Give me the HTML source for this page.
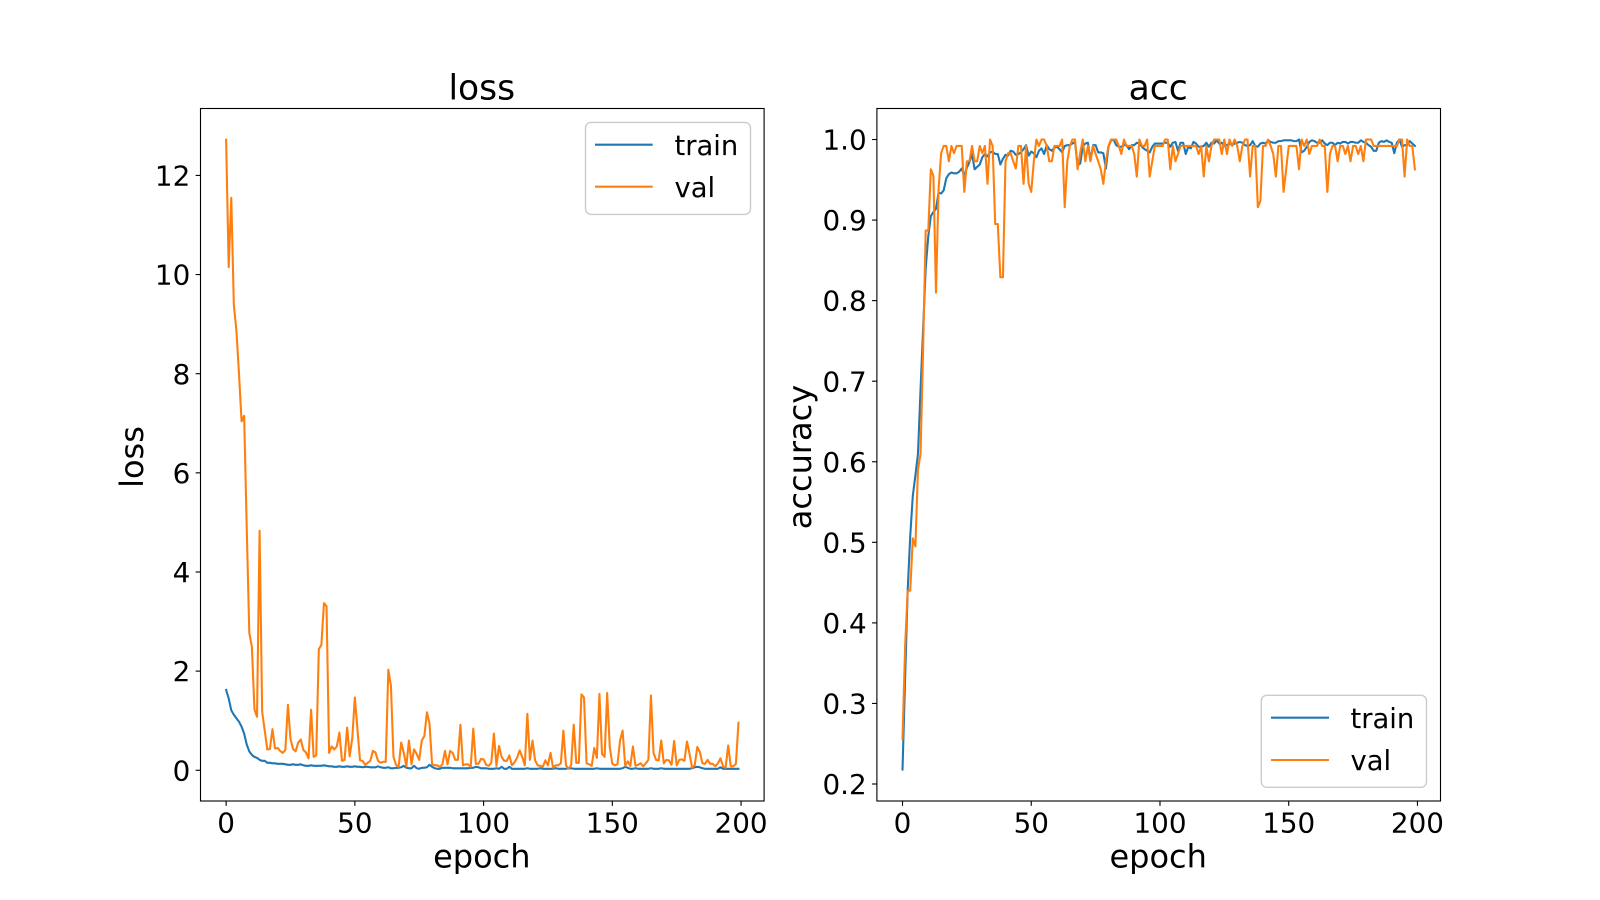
<!DOCTYPE html>
<html lang="en">
<head>
<meta charset="utf-8">
<title>Training curves: loss and accuracy</title>
<style>
  html, body { margin: 0; padding: 0; background: #fff; }
  svg { display: block; font-family: "DejaVu Sans", "Liberation Sans", sans-serif; fill: #000; }
  .tick-label { font-size: 27.8px; }
  .axis-title { font-size: 32px; }
  .chart-title { font-size: 34.5px; }
  .legend-text { font-size: 27.4px; }
</style>
</head>
<body>
<svg id="figure" xmlns="http://www.w3.org/2000/svg" width="1600" height="900" viewBox="0 0 1600 900">
  <rect x="0" y="0" width="1600" height="900" fill="#fff"/>

  <g id="panel-loss">
    <text class="chart-title" x="481.8" y="99.5" text-anchor="middle">loss</text>
    <text class="axis-title" x="481.8" y="867.5" text-anchor="middle">epoch</text>
    <text class="axis-title" transform="translate(143 457) rotate(-90)" text-anchor="middle">loss</text>
  </g>

  <g id="panel-acc">
    <text class="chart-title" x="1158.2" y="99.5" text-anchor="middle">acc</text>
    <text class="axis-title" x="1158.2" y="867.5" text-anchor="middle">epoch</text>
    <text class="axis-title" transform="translate(811 457) rotate(-90)" text-anchor="middle">accuracy</text>
  </g>

  <g id="legend-loss">
    <rect x="585.5" y="122.4" width="165" height="92" rx="5.5" ry="5.5" fill="#fff" fill-opacity="0.8" stroke="#cccccc" stroke-width="1.4"/>
    <line x1="595" x2="652.7" y1="144.7" y2="144.7" stroke="#1f77b4" stroke-width="2.08"/>
    <text class="legend-text" x="674.5" y="155">train</text>
    <line x1="595" x2="652.7" y1="186.7" y2="186.7" stroke="#ff7f0e" stroke-width="2.08"/>
    <text class="legend-text" x="674.5" y="197">val</text>
  </g>

  <g id="legend-acc">
    <rect x="1261.3" y="695.3" width="165.2" height="92" rx="5.5" ry="5.5" fill="#fff" fill-opacity="0.8" stroke="#cccccc" stroke-width="1.4"/>
    <line x1="1271" x2="1329" y1="717.7" y2="717.7" stroke="#1f77b4" stroke-width="2.08"/>
    <text class="legend-text" x="1350.5" y="728">train</text>
    <line x1="1271" x2="1329" y1="760" y2="760" stroke="#ff7f0e" stroke-width="2.08"/>
    <text class="legend-text" x="1350.5" y="770">val</text>
  </g>
</svg>

<script>
const lossTrain = [
  1.62,1.45,1.21,1.12,1.05,.98,.88,.74,.52,.38,
  .31,.27,.25,.21,.19,.19,.15,.15,.14,.14,
  .13,.13,.13,.12,.11,.11,.12,.11,.11,.12,
  .1,.09,.09,.1,.09,.09,.09,.09,.1,.09,
  .08,.08,.07,.07,.08,.07,.07,.08,.07,.07,
  .08,.07,.07,.06,.07,.07,.06,.06,.06,.08,
  .06,.05,.05,.06,.04,.04,.05,.05,.06,.09,
  .05,.04,.04,.09,.04,.03,.05,.05,.06,.11,
  .07,.04,.03,.03,.05,.05,.05,.05,.04,.04,
  .04,.04,.04,.04,.04,.05,.05,.07,.06,.04,
  .04,.04,.03,.03,.03,.04,.03,.07,.03,.03,
  .07,.03,.03,.03,.03,.03,.03,.04,.03,.03,
  .03,.03,.04,.03,.03,.03,.03,.03,.04,.03,
  .03,.03,.03,.04,.04,.03,.03,.03,.03,.03,
  .03,.03,.03,.03,.04,.03,.03,.03,.03,.03,
  .03,.03,.03,.03,.04,.07,.05,.03,.03,.04,
  .03,.03,.03,.03,.03,.04,.03,.03,.03,.04,
  .03,.03,.03,.03,.03,.03,.03,.03,.03,.03,
  .03,.04,.06,.07,.06,.04,.03,.03,.03,.03,
  .03,.03,.06,.03,.03,.03,.03,.03,.03,.03
];
const lossVal = [
  12.72,10.15,11.55,9.39,8.87,8.0,7.04,7.15,4.9,2.77,
  2.49,1.23,1.08,4.83,1.18,.8,.42,.43,.83,.44,
  .45,.39,.35,.41,1.32,.63,.43,.38,.56,.62,
  .41,.36,.24,1.22,.27,.3,2.44,2.53,3.37,3.31,
  .35,.48,.42,.48,.76,.19,.21,.86,.28,.65,
  1.47,.83,.2,.19,.11,.15,.19,.39,.36,.19,
  .15,.17,.17,2.03,1.71,.27,.11,.07,.56,.35,
  .08,.6,.12,.42,.33,.21,.6,.69,1.17,.94,
  .12,.1,.1,.07,.12,.39,.12,.39,.35,.21,
  .21,.92,.1,.12,.12,.07,.84,.13,.13,.23,
  .22,.11,.09,.15,.74,.09,.49,.27,.19,.19,
  .3,.1,.16,.25,.4,.27,.1,1.14,.21,.6,
  .2,.1,.09,.07,.2,.1,.35,.05,.1,.1,
  .14,.8,.1,.03,.1,.92,.15,.15,1.53,1.47,
  .14,.12,.09,.45,.25,1.54,.33,.27,1.56,.47,
  .13,.1,.12,.6,.8,.09,.18,.09,.48,.09,
  .11,.14,.08,.14,.21,1.51,.35,.21,.2,.6,
  .14,.21,.2,.11,.59,.1,.21,.22,.19,.58,
  .33,.05,.1,.47,.37,.14,.13,.21,.13,.13,
  .08,.14,.24,.08,.05,.5,.08,.08,.13,.96
];
const accTrain = [
  .218,.33,.44,.508,.558,.583,.61,.69,.765,.84,
  .88,.905,.91,.914,.934,.933,.937,.952,.957,.959,
  .958,.958,.96,.964,.955,.965,.972,.982,.963,.966,
  .969,.978,.982,.979,.984,.985,.982,.982,.969,.976,
  .981,.98,.986,.985,.981,.982,.984,.988,.993,.98,
  .985,.983,.978,.986,.989,.982,.993,.988,.986,.99,
  .991,.988,.984,.992,.993,.993,.995,.997,.968,.97,
  .991,.995,.996,.974,.993,.993,.984,.984,.983,.964,
  .991,.999,1.0,.993,.991,.991,.993,.993,.988,.993,
  .993,.996,.995,.991,.988,.986,.984,.991,.995,.995,
  .995,.995,.996,.996,.991,.996,.997,.986,.996,.996,
  .982,.991,.989,.997,.995,.991,.991,.992,.996,.991,
  .996,.995,.999,.995,.996,.992,.993,.995,.993,.995,
  .996,.997,.996,.993,.992,.993,.998,.992,.991,.995,
  .996,.995,.999,.997,.996,.996,.998,.998,.999,.999,
  .999,.999,.998,.998,1.0,.984,.986,.991,.997,.999,
  .998,.996,.996,.999,.995,.993,.996,.996,.993,.996,
  .995,.997,.997,.995,.997,.997,.996,.996,.999,.997,
  .996,.993,.991,.986,.986,.996,.998,.997,.999,.997,
  .996,.983,.996,1.0,.991,.993,.993,.998,.995,.992
];
const accVal = [
  .256,.37,.44,.44,.505,.495,.59,.61,.74,.887,
  .887,.963,.955,.81,.938,.983,.992,.992,.973,.992,
  .983,.992,.992,.992,.935,.973,.973,.992,.973,.973,
  .992,.983,.992,.945,1,.992,.895,.895,.829,.829,
  .973,.983,.983,.973,.964,.992,.992,.945,.992,.945,
  .935,.973,1,.992,1,1,.992,.973,.973,.992,
  .992,.992,1,.916,.973,.992,1,1,.963,.983,
  1,.973,.992,.973,.992,.982,.973,.963,.945,.973,
  .992,1,1,1,.992,.982,1,.992,.992,.992,
  .982,.954,1,.992,.992,1,.954,.973,.992,.992,
  .992,.992,1,1,.963,.992,.973,.982,.992,.992,
  .992,.992,.992,.992,.992,.982,.992,.954,.992,.973,
  .992,1,1,1,.982,1,.982,1,.992,1,
  .992,.973,.992,1,1,.954,.992,.992,.916,.924,
  .992,.992,1,.992,.982,.954,.992,.992,.935,.963,
  .992,.992,.992,.992,.963,1,.992,1,.982,.992,
  .992,.992,1,.992,.992,.935,.982,.992,.992,.973,
  .992,.992,.982,.992,.973,.992,.992,.982,.992,.973,
  1,1,1,.992,.992,.992,.992,.992,.992,.992,
  .992,.992,.992,1,1,.954,1,.992,.992,.963
];
const epochTicks = [0, 50, 100, 150, 200];
const lossTicks = [0, 2, 4, 6, 8, 10, 12];
const accTicks = [0.2, 0.3, 0.4, 0.5, 0.6, 0.7, 0.8, 0.9, 1.0];
const epochDomain = [-9.95, 208.95];
const lossDomain = [-0.62, 13.35];
const accDomain = [0.1789, 1.0385];

const NS = 'http://www.w3.org/2000/svg';

function scaleLinear(domain, range) {
  return function (v) {
    return range[0] + (v - domain[0]) / (domain[1] - domain[0]) * (range[1] - range[0]);
  };
}

function makeSvg(tag, attrs) {
  const el = document.createElementNS(NS, tag);
  for (const k in attrs) el.setAttribute(k, attrs[k]);
  return el;
}

function drawSeries(parent, name, values, x, y, color) {
  const pts = values.map(function (v, i) { return x(i).toFixed(2) + ',' + y(v).toFixed(2); });
  const line = makeSvg('polyline', {
    points: pts.join(' '), fill: 'none', stroke: color,
    'stroke-width': 2.08, 'stroke-linejoin': 'round', 'stroke-linecap': 'square'
  });
  
  
  parent.appendChild(line);
}

function drawPanel(cfg) {
  const panel = document.getElementById(cfg.panelId);
  const box = cfg.box;
  const x = scaleLinear(epochDomain, [box.left, box.right]);
  const y = scaleLinear(cfg.yDomain, [box.bottom, box.top]);

  const series = makeSvg('g', {});
  
  
  panel.appendChild(series);
  drawSeries(series, cfg.prefix + '-train-line', cfg.train, x, y, '#1f77b4');
  drawSeries(series, cfg.prefix + '-val-line', cfg.val, x, y, '#ff7f0e');

  const frame = makeSvg('rect', {
    x: box.left, y: box.top, width: box.right - box.left, height: box.bottom - box.top,
    fill: 'none', stroke: '#000', 'stroke-width': 1.11
  });
  
  
  panel.appendChild(frame);

  epochTicks.forEach(function (t) {
    const px = x(t);
    const mark = makeSvg('line', { x1: px, x2: px, y1: box.bottom, y2: box.bottom + 4.86, stroke: '#000', 'stroke-width': 1.11 });
    
    
    panel.appendChild(mark);
    const label = makeSvg('text', { x: px, y: box.bottom + 31.6, 'text-anchor': 'middle', class: 'tick-label' });
    
    
    label.textContent = String(t);
    panel.appendChild(label);
  });

  cfg.yTicks.forEach(function (t) {
    const py = y(t);
    const mark = makeSvg('line', { x1: box.left - 4.86, x2: box.left, y1: py, y2: py, stroke: '#000', 'stroke-width': 1.11 });
    
    
    panel.appendChild(mark);
    const label = makeSvg('text', { x: box.left - 10.2, y: py + 10.1, 'text-anchor': 'end', class: 'tick-label' });
    
    
    label.textContent = cfg.yFormat(t);
    panel.appendChild(label);
  });
}

drawPanel({
  panelId: 'panel-loss', prefix: 'loss',
  box: { left: 200.5, right: 764.1, top: 108.5, bottom: 801 },
  yDomain: lossDomain, yTicks: lossTicks,
  yFormat: function (t) { return String(t); },
  train: lossTrain, val: lossVal
});
drawPanel({
  panelId: 'panel-acc', prefix: 'accuracy',
  box: { left: 876.9, right: 1440.5, top: 108.5, bottom: 801 },
  yDomain: accDomain, yTicks: accTicks,
  yFormat: function (t) { return t.toFixed(1); },
  train: accTrain, val: accVal
});

const fig = document.getElementById('figure');
fig.appendChild(document.getElementById('legend-loss'));
fig.appendChild(document.getElementById('legend-acc'));
</script>
</body>
</html>
